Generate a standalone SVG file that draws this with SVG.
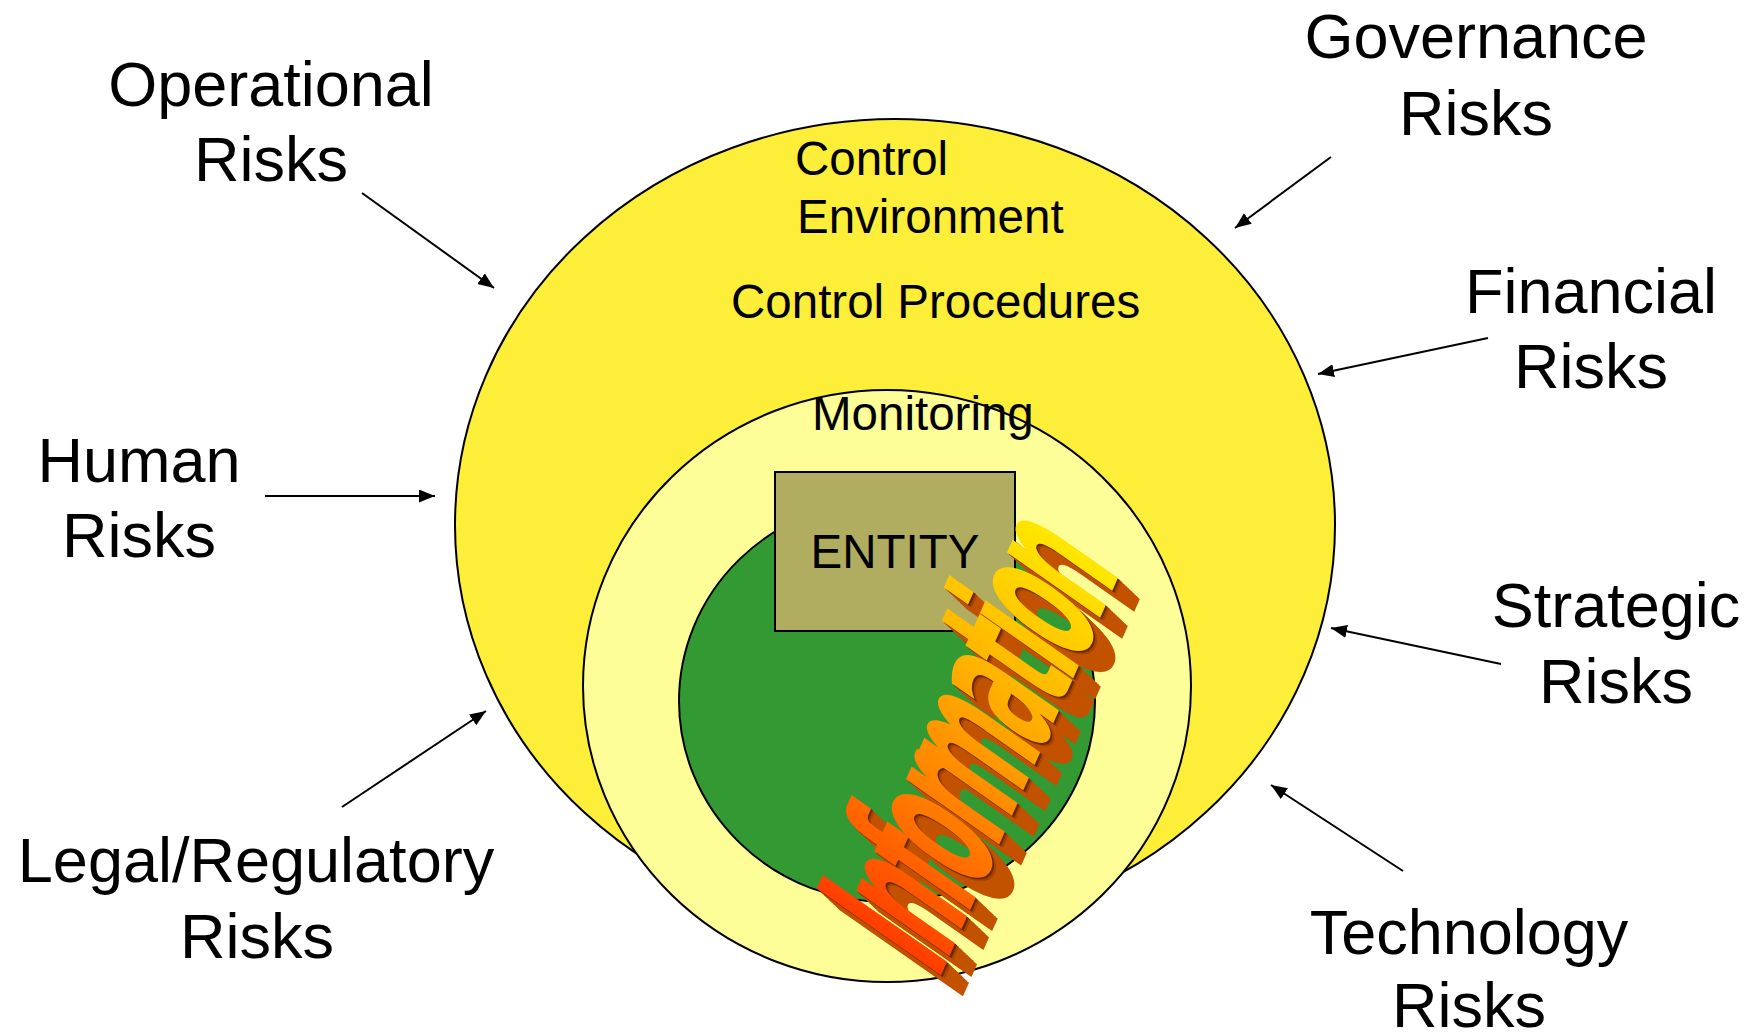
<svg xmlns="http://www.w3.org/2000/svg" xmlns:xlink="http://www.w3.org/1999/xlink" width="1761" height="1035" viewBox="0 0 1761 1035">
<style>
.lbl{font-family:"Liberation Sans",Arial,sans-serif;font-size:63px;fill:#000;text-anchor:middle}
.in{font-family:"Liberation Sans",Arial,sans-serif;font-size:47.5px;fill:#000}
.ell{stroke:#000;stroke-width:2}
.conn{stroke:#000;stroke-width:2;fill:none;marker-end:url(#ah)}
.ext{fill:#C25200}
</style>
<defs>
<marker id="ah" markerUnits="userSpaceOnUse" markerWidth="18" markerHeight="14" refX="16" refY="6.5" orient="auto">
<path d="M0,0 L16,6.5 L0,13 z" fill="#000"/>
</marker>
<linearGradient id="infoGrad" x1="0" y1="0" x2="1" y2="0">
<stop offset="0" stop-color="#FF3A00"/>
<stop offset="0.3" stop-color="#FF7800"/>
<stop offset="0.65" stop-color="#FFB400"/>
<stop offset="1" stop-color="#FFE800"/>
</linearGradient>
<text id="info" transform="matrix(0.1546,-0.3471,0.8192,0.5736,0,0)" font-family="'DejaVu Sans','Liberation Sans',sans-serif" font-weight="bold" font-size="208" letter-spacing="-20">Information</text>
</defs>

<g id="control-environment">
<ellipse class="ell" cx="895" cy="525" rx="440" ry="406" fill="#FDEE3A"/>
</g>
<g id="monitoring-area">
<ellipse class="ell" cx="887" cy="686" rx="304" ry="296" fill="#FEFE99"/>
</g>
<g id="core">
<ellipse class="ell" cx="887" cy="701" rx="208" ry="201" fill="#339933"/>
</g>
<g id="entity">
<rect x="775" y="472" width="240" height="159" fill="#B0AC60" stroke="#000" stroke-width="2"/>
<text class="in" x="895" y="568" text-anchor="middle">ENTITY</text>
</g>
<g id="inner-labels">
<text class="in" x="795" y="175">Control</text>
<text class="in" x="797" y="233">Environment</text>
<text class="in" x="731" y="318">Control Procedures</text>
<text class="in" x="812" y="430">Monitoring</text>
</g>

<g id="information" transform="translate(938,982)">
<use xlink:href="#info" href="#info" x="22" y="21" class="ext"/>
<use xlink:href="#info" href="#info" x="20.2" y="19.3" class="ext"/>
<use xlink:href="#info" href="#info" x="18.3" y="17.5" class="ext"/>
<use xlink:href="#info" href="#info" x="16.5" y="15.8" class="ext"/>
<use xlink:href="#info" href="#info" x="14.7" y="14" class="ext"/>
<use xlink:href="#info" href="#info" x="12.8" y="12.3" class="ext"/>
<use xlink:href="#info" href="#info" x="11" y="10.5" class="ext"/>
<use xlink:href="#info" href="#info" x="9.2" y="8.8" class="ext"/>
<use xlink:href="#info" href="#info" x="7.3" y="7" class="ext"/>
<use xlink:href="#info" href="#info" x="5.5" y="5.3" class="ext"/>
<use xlink:href="#info" href="#info" x="3.7" y="3.5" fill="#A84400"/>
<use xlink:href="#info" href="#info" x="1.8" y="1.8" fill="#6A2800"/>
<use xlink:href="#info" href="#info" x="0" y="0" fill="url(#infoGrad)"/>
</g>

<g id="operational-risks"><text class="lbl" x="271" y="106">Operational</text><text class="lbl" x="271" y="181">Risks</text></g>
<g id="governance-risks"><text class="lbl" x="1476" y="58">Governance</text><text class="lbl" x="1476" y="135">Risks</text></g>
<g id="financial-risks"><text class="lbl" x="1591" y="313">Financial</text><text class="lbl" x="1591" y="388">Risks</text></g>
<g id="human-risks"><text class="lbl" x="139" y="482">Human</text><text class="lbl" x="139" y="557">Risks</text></g>
<g id="strategic-risks"><text class="lbl" x="1616" y="627">Strategic</text><text class="lbl" x="1616" y="703">Risks</text></g>
<g id="legal-risks"><text class="lbl" x="256" y="882">Legal/Regulatory</text><text class="lbl" x="257" y="958">Risks</text></g>
<g id="technology-risks"><text class="lbl" x="1469" y="954">Technology</text><text class="lbl" x="1469" y="1027">Risks</text></g>

<g id="connectors">
<line class="conn" x1="362" y1="193" x2="494" y2="288"/>
<line class="conn" x1="1331" y1="157" x2="1235" y2="228"/>
<line class="conn" x1="1488" y1="338" x2="1318" y2="374"/>
<line class="conn" x1="265" y1="496" x2="435" y2="496"/>
<line class="conn" x1="1501" y1="664" x2="1331" y2="628"/>
<line class="conn" x1="342" y1="807" x2="486" y2="711"/>
<line class="conn" x1="1403" y1="871" x2="1271" y2="785"/>
</g>
</svg>
